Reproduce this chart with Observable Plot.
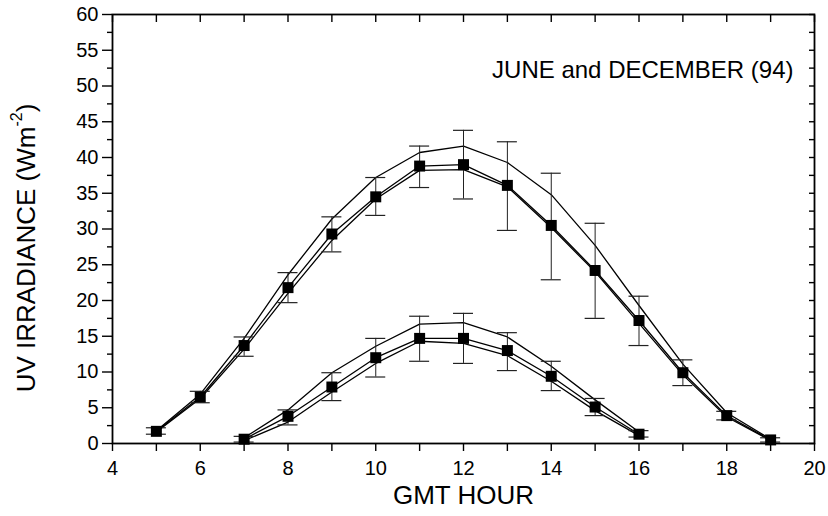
<!DOCTYPE html>
<html>
<head>
<meta charset="utf-8">
<script src="https://cdn.jsdelivr.net/npm/d3@7"></script>
<script src="https://cdn.jsdelivr.net/npm/@observablehq/plot@0.6"></script>
<style>
  body { margin: 0; background: #fff; }
  #chart { width: 828px; height: 516px; }
</style>
</head>
<body>
<div id="chart"></div>
<script>
// Hourly UV irradiance (W m-2), June and December 1994
const juneHours = [5, 6, 7, 8, 9, 10, 11, 12, 13, 14, 15, 16, 17, 18, 19];
const juneMean  = [1.7, 6.5, 13.7, 21.8, 29.3, 34.5, 38.8, 39.0, 36.1, 30.5, 24.2, 17.2, 9.9, 3.9, 0.5];
const juneUpper = [1.8, 6.9, 14.7, 23.6, 31.4, 37.2, 40.7, 41.6, 39.3, 34.8, 27.7, 19.3, 11.1, 4.3, 0.6];
const juneLower = [1.6, 6.3, 13.2, 21.0, 28.4, 34.2, 38.2, 38.3, 35.9, 30.2, 24.0, 16.8, 9.6, 3.7, 0.4];
const juneErrHi = [2.2, 7.3, 14.9, 23.9, 31.7, 37.2, 41.6, 43.8, 42.2, 37.8, 30.8, 20.6, 11.7, 4.5, 0.8];
const juneErrLo = [1.3, 5.7, 12.2, 19.7, 26.8, 31.9, 35.8, 34.2, 29.8, 22.9, 17.5, 13.7, 8.1, 3.3, 0.2];

const decHours = [7, 8, 9, 10, 11, 12, 13, 14, 15, 16];
const decMean  = [0.6, 3.8, 7.9, 12.0, 14.7, 14.7, 13.0, 9.4, 5.1, 1.3];
const decUpper = [0.8, 4.7, 9.9, 13.6, 16.7, 16.9, 14.9, 10.8, 6.1, 1.6];
const decLower = [0.4, 3.0, 7.2, 11.2, 14.3, 14.0, 12.3, 8.7, 4.6, 1.1];
const decErrHi = [1.0, 4.7, 9.9, 14.7, 17.8, 18.2, 15.5, 11.5, 6.3, 1.8];
const decErrLo = [0.2, 2.6, 6.0, 9.3, 11.5, 11.2, 10.2, 7.4, 3.9, 0.9];

const xMajorTicks = [4, 6, 8, 10, 12, 14, 16, 18, 20];
const xMinorTicks = [5, 7, 9, 11, 13, 15, 17, 19];
const yMajorTicks = [0, 5, 10, 15, 20, 25, 30, 35, 40, 45, 50, 55, 60];
const yMinorTicks = [2.5, 7.5, 12.5, 17.5, 22.5, 27.5, 32.5, 37.5, 42.5, 47.5, 52.5, 57.5];

const chartTitle = "JUNE and DECEMBER (94)";
const xTitle = "GMT HOUR";

function rows(month, hours, mean, upper, lower, hi, lo) {
  return hours.map((h, i) => ({month, hour: h, mean: mean[i], upper: upper[i], lower: lower[i], hi: hi[i], lo: lo[i]}));
}
const data = [
  ...rows("June", juneHours, juneMean, juneUpper, juneLower, juneErrHi, juneErrLo),
  ...rows("December", decHours, decMean, decUpper, decLower, decErrHi, decErrLo)
];

const font = "'Liberation Sans', Arial, Helvetica, sans-serif";
const lineStyle = {x: "hour", z: "month", stroke: "black", strokeWidth: 1.3};

const plot = Plot.plot({
  width: 828,
  height: 516,
  marginLeft: 112,
  marginRight: 14,
  marginTop: 14,
  marginBottom: 73,
  style: {fontFamily: font, color: "black", background: "white"},
  x: {domain: [4, 20], label: null},
  y: {domain: [0, 60], label: null},
  marks: [
    // bottom axis: labelled even hours, plain odd-hour ticks
    Plot.axisX({anchor: "bottom", ticks: xMajorTicks, tickSize: 8, tickPadding: 9, fontSize: 20, label: null, strokeWidth: 1.4}),
    Plot.axisX({anchor: "bottom", ticks: xMinorTicks, tickSize: 8, tickFormat: () => "", label: null, strokeWidth: 1.4}),
    // top axis: inward ticks every hour
    Plot.axisX({anchor: "top", ticks: d3.range(4, 21, 1), tickSize: 7, dy: 7, tickFormat: () => "", label: null, strokeWidth: 1.4}),
    // left axis
    Plot.axisY({anchor: "left", ticks: yMajorTicks, tickSize: 10, tickPadding: 4, fontSize: 20, label: null, strokeWidth: 1.4}),
    Plot.axisY({anchor: "left", ticks: yMinorTicks, tickSize: 5, tickFormat: () => "", label: null, strokeWidth: 1.4}),
    // right axis: inward ticks
    Plot.axisY({anchor: "right", ticks: d3.range(0, 60.1, 2.5), tickSize: 6, dx: -6, tickFormat: () => "", label: null, strokeWidth: 1.4}),
    Plot.frame({stroke: "black", strokeWidth: 1.8}),

    // three curves per month
    Plot.line(data, {...lineStyle, y: "upper"}),
    Plot.line(data, {...lineStyle, y: "lower"}),
    Plot.line(data, {...lineStyle, y: "mean"}),

    // error bars with caps
    Plot.ruleX(data, {x: "hour", y1: "lo", y2: "hi", stroke: "#222", strokeWidth: 1}),
    Plot.ruleY(data, {x1: "hour", x2: "hour", y: "hi", insetLeft: -10, insetRight: -10, stroke: "#222", strokeWidth: 1.2}),
    Plot.ruleY(data, {x1: "hour", x2: "hour", y: "lo", insetLeft: -10, insetRight: -10, stroke: "#222", strokeWidth: 1.2}),

    // measured means
    Plot.dot(data, {x: "hour", y: "mean", symbol: "square", r: 6.2, fill: "black", stroke: "none"}),

    Plot.text([chartTitle], {frameAnchor: "top-right", dx: -21, dy: 46, textAnchor: "end", fontSize: 24, fill: "black"}),
    Plot.text([xTitle], {frameAnchor: "bottom", dy: 60, fontSize: 26, fill: "black"})
  ]
});

// rotated y-axis title with a superscript exponent
const svg = d3.select(plot);
const yTitle = svg.append("text")
  .attr("transform", "translate(28,248) rotate(-90)")
  .attr("text-anchor", "middle")
  .attr("dominant-baseline", "middle")
  .attr("font-family", font)
  .attr("font-size", 26)
  .attr("fill", "black");
yTitle.append("tspan").text("UV IRRADIANCE (Wm");
yTitle.append("tspan").attr("font-size", 16).attr("dy", -10).text("-2");
yTitle.append("tspan").attr("dy", 10).text(")");

document.getElementById("chart").appendChild(plot);
</script>
</body>
</html>
